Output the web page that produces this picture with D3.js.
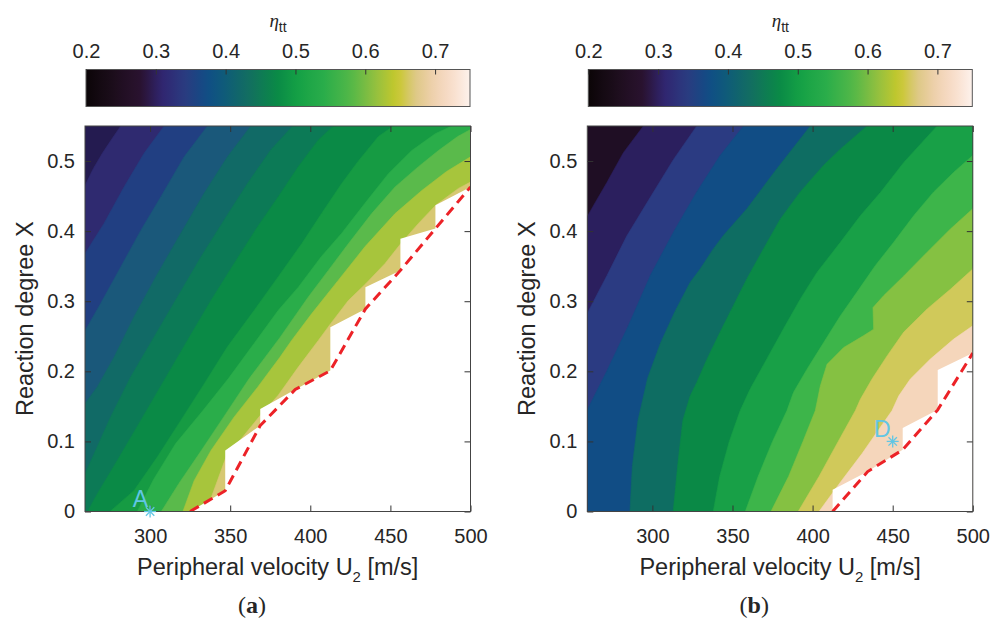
<!DOCTYPE html>
<html>
<head>
<meta charset="utf-8">
<script src="https://cdn.jsdelivr.net/npm/d3@7"></script>
<style>
body { margin: 0; background: #fff; }
text { font-family: "Liberation Sans", Arial, sans-serif; fill: #262626; }
</style>
</head>
<body>
<div id="chart"></div>
<script>
// colour map (value -> colour)
var cmapValues = [0.20, 0.244, 0.279, 0.307, 0.34, 0.373, 0.397, 0.436, 0.474, 0.502, 0.541, 0.579, 0.617, 0.646, 0.67, 0.699, 0.723, 0.75];
var cmapColors = ["#0b0507", "#1e0e1e", "#2a1230", "#30246e", "#2b3a80", "#104d85", "#0f5a7a", "#12705e", "#0a8a46", "#14a045", "#2aad4a", "#52b748", "#97c13e", "#c8c82a", "#dcc882", "#f0d1b0", "#f8ddca", "#fdf2ec"];
var cbTicks = [0.2, 0.3, 0.4, 0.5, 0.6, 0.7];
var xTicks = [300, 350, 400, 450, 500];
var yTicks = [0, 0.1, 0.2, 0.3, 0.4, 0.5];

// panel (a): band colours, top-left to bottom-right
var bandsA = ["#241b50", "#2f2a70", "#213f82", "#1a587a", "#116a66", "#0c7a56", "#0a8a46", "#169b43", "#2aad4a", "#5aba4b", "#a7c53c", "#d7c872"];
// panel (a): contour lines between bands, [U2, X]
var linesA = [
  [[281.7,0.55],[276,0.531],[270.2,0.511],[264.5,0.489],[259.4,0.465]],
  [[308.75,0.55],[296.25,0.511],[283.75,0.463],[271.25,0.411],[259.4,0.368]],
  [[335.8,0.55],[321.25,0.506],[306.7,0.449],[294.2,0.401],[281.7,0.349],[269.2,0.297],[259.4,0.258]],
  [[362.9,0.55],[348.3,0.506],[333.75,0.454],[319.2,0.397],[304.6,0.339],[290,0.278],[277.5,0.22],[267.1,0.178],[259.4,0.154]],
  [[389,0.55],[375.4,0.516],[360.8,0.468],[346.25,0.416],[331.7,0.363],[317.1,0.306],[302.5,0.249],[287.9,0.192],[275.4,0.135],[265,0.082],[259.4,0.054]],
  [[414.4,0.55],[405,0.53],[392.5,0.492],[380,0.449],[367,0.406],[352.5,0.354],[338,0.301],[323.3,0.244],[308.75,0.187],[294.2,0.13],[279.6,0.073],[267,0.025],[261,0]],
  [[451.9,0.55],[442.5,0.535],[430,0.5],[419.6,0.468],[407,0.425],[394.6,0.382],[380,0.335],[365,0.287],[348.3,0.235],[333.75,0.182],[319.2,0.13],[304.6,0.078],[290,0.03],[275,0]],
  [[488.3,0.55],[478,0.539],[463.3,0.515],[448.75,0.482],[434.2,0.44],[419.6,0.397],[407,0.364],[392.5,0.32],[380,0.287],[365,0.24],[349,0.19],[333,0.144],[316,0.097],[302,0.045],[292,0]],
  [[500,0.545],[492,0.535],[480,0.515],[467.5,0.492],[452.9,0.463],[438.3,0.425],[423.75,0.382],[411.25,0.344],[398.75,0.306],[381,0.248],[362,0.19],[346,0.135],[332,0.087],[318,0.04],[307,0]],
  [[500,0.506],[485,0.485],[469.6,0.458],[452.9,0.425],[434.2,0.378],[417.5,0.33],[400.8,0.282],[388.3,0.244],[381,0.22],[367,0.177],[352.5,0.135],[338,0.087],[327.5,0.044],[320.5,0]],
  [[500,0.47],[492.5,0.461],[478.3,0.437],[467.5,0.411],[456.4,0.382],[446.7,0.354],[434.6,0.325],[423.75,0.301],[412.7,0.268],[405,0.244],[392.5,0.206],[380,0.166],[369.1,0.138],[347.3,0.077],[335,0]]
];
// panel (a): edge of the computed region and the red limit line
var edgeA = [[325,0],[346.9,0.0297],[346.9,0.0869],[368.75,0.1226],[368.75,0.1464],[390.6,0.174],[412.5,0.201],[412.5,0.263],[434.4,0.289],[434.4,0.32],[456.25,0.344],[456.25,0.389],[478.1,0.4036],[478.1,0.437],[500,0.463]];
var limitA = [[325,0],[346.9,0.0297],[368.75,0.1226],[390.6,0.174],[412.5,0.201],[434.4,0.289],[456.25,0.344],[478.1,0.4036],[500,0.463]];
var pointA = [300, 0];

// panel (b)
var bandsB = ["#1f0e24", "#2b1f5e", "#2b3b82", "#114d85", "#0e6d62", "#0a8946", "#18a047", "#3db54a", "#85c142", "#d0c95a", "#f5d6bb"];
var linesB = [
  [[294.4,0.55],[281.9,0.512],[271.5,0.469],[263.1,0.436],[259.4,0.421]],
  [[327.7,0.55],[313.1,0.502],[296.5,0.44],[284,0.393],[271.5,0.336],[259.4,0.283]],
  [[356.9,0.55],[342.3,0.508],[327.7,0.456],[314,0.402],[299,0.338],[285,0.265],[271.5,0.2],[259.4,0.145]],
  [[398.6,0.55],[377.7,0.489],[359,0.432],[344.4,0.394],[338.1,0.375],[329.8,0.346],[323.6,0.327],[314,0.285],[305,0.24],[297,0.19],[291,0.13],[287.5,0.065],[286,0]],
  [[434,0.55],[417.3,0.517],[406.9,0.494],[392.3,0.456],[379.8,0.417],[369.4,0.375],[359,0.332],[350.6,0.294],[342.3,0.256],[334,0.217],[327.7,0.184],[323.6,0.165],[319,0.13],[316,0.07],[313,0]],
  [[477.7,0.55],[456.9,0.498],[442.3,0.455],[429.8,0.422],[417.3,0.384],[402.7,0.341],[392.3,0.303],[381.9,0.261],[371.5,0.218],[361.1,0.175],[354.8,0.144],[348,0.1],[342,0.05],[338,0]],
  [[500,0.508],[488.1,0.484],[475.6,0.456],[463.1,0.422],[450.6,0.384],[439.2,0.351],[427.7,0.313],[417.3,0.279],[406.9,0.241],[396.5,0.203],[388.1,0.17],[384,0.144],[375,0.1],[366,0.05],[358,0]],
  [[500,0.432],[486,0.403],[471.5,0.37],[456.9,0.336],[444.4,0.308],[437.7,0.291],[438.1,0.26],[431.9,0.251],[419.4,0.234],[409,0.21],[404.8,0.179],[401.7,0.144],[394,0.1],[385,0.05],[374,0]],
  [[500,0.346],[486,0.317],[471.5,0.289],[456.9,0.256],[446.5,0.222],[437.1,0.189],[429.8,0.16],[426.7,0.144],[416,0.1],[404,0.05],[391,0]],
  [[500,0.265],[488.1,0.246],[473.5,0.2175],[461,0.189],[453.8,0.165],[449.6,0.144],[441.3,0.117],[431,0.083],[418.4,0.045],[404,0]]
];
var edgeB = [[412.5,0],[412.5,0.031],[434.4,0.057],[456.25,0.088],[456.25,0.119],[478.1,0.145],[478.1,0.202],[500,0.226]];
var limitB = [[412.5,0],[434.4,0.057],[456.25,0.088],[478.1,0.145],[500,0.226]];
var pointB = [450, 0.1];

// layout
var plotW = 385.5, plotTop = 126, plotBottom = 511.5;
var cbTop = 69.5, cbH = 37;
var markColor = "#62c6e4";

var svg = d3.select("#chart")
  .append("svg")
    .attr("width", 1001)
    .attr("height", 624);

var defs = svg.append("defs");
var cmap = d3.scaleLinear().domain(cmapValues).range(cmapColors);
var grad = defs.append("linearGradient").attr("id", "cmap");
grad.selectAll("stop")
  .data(d3.range(0, 1.0001, 0.02))
  .enter().append("stop")
    .attr("offset", function(t) { return t; })
    .attr("stop-color", function(t) { return cmap(0.2 + t * 0.55); });

function drawPanel(left, bands, lines, edge, limit, point, pointLabel, tag) {
  var g = svg.append("g");

  var x = d3.scaleLinear().domain([259.375, 500]).range([left, left + plotW]);
  var y = d3.scaleLinear().domain([0, 0.55]).range([plotBottom, plotTop]);
  var line = d3.line()
    .x(function(d) { return x(d[0]); })
    .y(function(d) { return y(d[1]); });

  defs.append("clipPath").attr("id", "clip-" + tag)
    .append("rect")
      .attr("x", left).attr("y", plotTop)
      .attr("width", plotW).attr("height", plotBottom - plotTop);

  var area = g.append("g").attr("clip-path", "url(#clip-" + tag + ")");

  // bands: first colour fills the plot, each next colour fills below-right of its line
  area.append("rect")
    .attr("x", left).attr("y", plotTop)
    .attr("width", plotW).attr("height", plotBottom - plotTop)
    .attr("fill", bands[0]);
  var outside = [[240, -0.1], [520, -0.1], [520, 0.6]];
  area.selectAll("path.band")
    .data(lines)
    .enter().append("path")
      .attr("class", "band")
      .attr("d", function(d) { return line(d.concat(outside)) + "Z"; })
      .attr("fill", function(d, i) { return bands[i + 1]; })
      .attr("stroke", function(d, i) { return bands[i + 1]; })
      .attr("stroke-width", 0.6);

  // region without results
  area.append("path")
    .attr("d", line(edge.concat([[510, 0.01], [510, -0.02], [edge[0][0], -0.02]])) + "Z")
    .attr("fill", "#fff");

  area.append("path")
    .attr("d", line(limit))
    .attr("fill", "none")
    .attr("stroke", "#ec2227")
    .attr("stroke-width", 3)
    .attr("stroke-dasharray", "10,6");

  // axes, ticks inside the box on all sides
  function styleAxis(sel) {
    sel.select(".domain").remove();
    sel.attr("color", "#333").attr("font-size", 20)
      .attr("font-family", "Liberation Sans, Arial, sans-serif");
    sel.selectAll("text").style("fill", "#262626");
  }
  g.append("g")
    .attr("transform", "translate(0," + plotBottom + ")")
    .call(d3.axisBottom(x).tickValues(xTicks).tickSize(-6).tickPadding(17))
    .call(styleAxis);
  g.append("g")
    .attr("transform", "translate(0," + plotTop + ")")
    .call(d3.axisTop(x).tickValues(xTicks).tickSize(-6).tickFormat(""))
    .call(styleAxis);
  g.append("g")
    .attr("transform", "translate(" + left + ",0)")
    .call(d3.axisLeft(y).tickValues(yTicks).tickSize(-6).tickPadding(10).tickFormat(function(d) { return d === 0 ? "0" : d3.format(".1f")(d); }))
    .call(styleAxis);
  g.append("g")
    .attr("transform", "translate(" + (left + plotW) + ",0)")
    .call(d3.axisRight(y).tickValues(yTicks).tickSize(-6).tickFormat(""))
    .call(styleAxis);

  g.append("rect")
    .attr("x", left).attr("y", plotTop)
    .attr("width", plotW).attr("height", plotBottom - plotTop)
    .attr("fill", "none")
    .attr("stroke", "#444")
    .attr("stroke-width", 1);

  // marker
  var px = x(point[0]), py = y(point[1]), s = 6;
  var star = g.append("g").attr("stroke", markColor).attr("stroke-width", 1.3);
  [[-s, 0, s, 0], [0, -s, 0, s], [-s * 0.7, -s * 0.7, s * 0.7, s * 0.7], [-s * 0.7, s * 0.7, s * 0.7, -s * 0.7]].forEach(function(a) {
    star.append("line")
      .attr("x1", px + a[0]).attr("y1", py + a[1])
      .attr("x2", px + a[2]).attr("y2", py + a[3]);
  });
  g.append("text")
    .attr("x", px - 2).attr("y", py - 4.5)
    .attr("text-anchor", "end")
    .attr("font-size", 23)
    .style("fill", markColor)
    .text(pointLabel);

  // axis titles
  var xt = g.append("text")
    .attr("x", left + plotW / 2).attr("y", 575)
    .attr("text-anchor", "middle")
    .attr("font-size", 23.5);
  xt.append("tspan").text("Peripheral velocity U");
  xt.append("tspan").attr("font-size", 15).attr("dy", 7).text("2");
  xt.append("tspan").attr("dy", -7).text(" [m/s]");

  g.append("text")
    .attr("transform", "translate(" + (left - 52) + "," + ((plotTop + plotBottom) / 2) + ") rotate(-90)")
    .attr("text-anchor", "middle")
    .attr("font-size", 23.5)
    .text("Reaction degree X");

  var lab = g.append("text")
    .attr("x", left + 167).attr("y", 613)
    .attr("text-anchor", "middle")
    .attr("font-size", 24)
    .style("font-family", "Liberation Serif, Times New Roman, serif");
  lab.append("tspan").text("(");
  lab.append("tspan").attr("font-weight", "bold").text(tag);
  lab.append("tspan").text(")");

  // colour bar
  var cbLeft = left + 1, cbW = plotW - 1.5;
  var cb = d3.scaleLinear().domain([0.2, 0.75]).range([cbLeft, cbLeft + cbW]);
  g.append("rect")
    .attr("x", cbLeft).attr("y", cbTop)
    .attr("width", cbW).attr("height", cbH)
    .attr("fill", "url(#cmap)")
    .attr("stroke", "#555")
    .attr("stroke-width", 1);
  g.append("g")
    .attr("transform", "translate(0," + cbTop + ")")
    .call(d3.axisTop(cb).tickValues(cbTicks).tickSize(-5).tickPadding(11.5).tickFormat(d3.format(".1f")))
    .call(styleAxis);

  var eta = g.append("text")
    .attr("x", cbLeft + cbW / 2).attr("y", 27)
    .attr("text-anchor", "middle");
  eta.append("tspan")
    .attr("font-size", 19)
    .attr("font-style", "italic")
    .style("font-family", "Liberation Serif, Times New Roman, serif")
    .text("\u03b7");
  eta.append("tspan").attr("font-size", 14).attr("dy", 5).text("tt");
}

drawPanel(85, bandsA, linesA, edgeA, limitA, pointA, "A", "a");
drawPanel(587.3, bandsB, linesB, edgeB, limitB, pointB, "D", "b");
</script>
</body>
</html>
